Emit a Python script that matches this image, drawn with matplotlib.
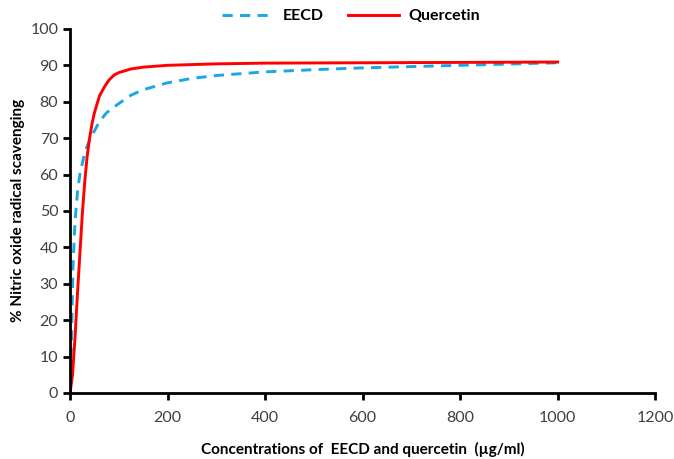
import numpy as np
import matplotlib.pyplot as plt

plt.rcParams['font.family'] = ['Lato', 'DejaVu Sans']

# values
eecd_x = [0, 3, 6, 10, 15, 20, 30, 40, 50, 60, 75, 100, 125, 150, 200, 250, 300,
          400, 500, 600, 800, 1000]
eecd_y = [0, 15, 35, 47, 55, 60, 66, 69.5, 72, 74.5, 77, 79.5, 81.8, 83.3, 85.2,
          86.4, 87.2, 88.2, 88.8, 89.3, 90.0, 90.7]

querc_x = [0, 5, 10, 15, 20, 25, 30, 35, 40, 45, 50, 60, 70, 80, 90, 100, 125, 150,
           200, 300, 400, 600, 800, 1000]
querc_y = [0, 5, 15, 27, 38, 49, 58, 65, 70, 74, 77, 81.5, 84, 86, 87.3, 88, 89,
           89.5, 90, 90.4, 90.6, 90.7, 90.8, 90.9]

fig = plt.figure(figsize=(6.74, 4.59), dpi=100)
ax = fig.add_axes([0.104, 0.144, 0.868, 0.793])

ax.plot(eecd_x, eecd_y, color='#1aa7e6', lw=2.1, ls=(0, (3.5, 2.5)), label='EECD')
ax.plot(querc_x, querc_y, color='#ff0000', lw=2.1, label='Quercetin')

ax.set_xlim(0, 1200)
ax.set_ylim(0, 100)
ax.set_xticks(np.arange(0, 1201, 200))
ax.set_yticks(np.arange(0, 101, 10))
for s in ['top', 'right']:
    ax.spines[s].set_visible(False)
for s in ['left', 'bottom']:
    ax.spines[s].set_linewidth(2)
ax.tick_params(width=2, length=5, labelsize=11.5, colors='black', labelcolor='#404040')
ax.tick_params(axis='x', pad=8)

ax.set_xlabel('Concentrations of  EECD and quercetin  (\u00b5g/ml)', fontsize=11,
              fontweight='bold', labelpad=12)
ax.set_ylabel('% Nitric oxide radical scavenging', fontsize=11, fontweight='bold')

ax.legend(loc='center', bbox_to_anchor=(0.48, 1.035), ncol=2, frameon=False,
          prop={'weight': 'bold', 'size': 11.5}, handlelength=3.2,
          columnspacing=1.5, handletextpad=0.6)

plt.savefig('out.png', dpi=100)
